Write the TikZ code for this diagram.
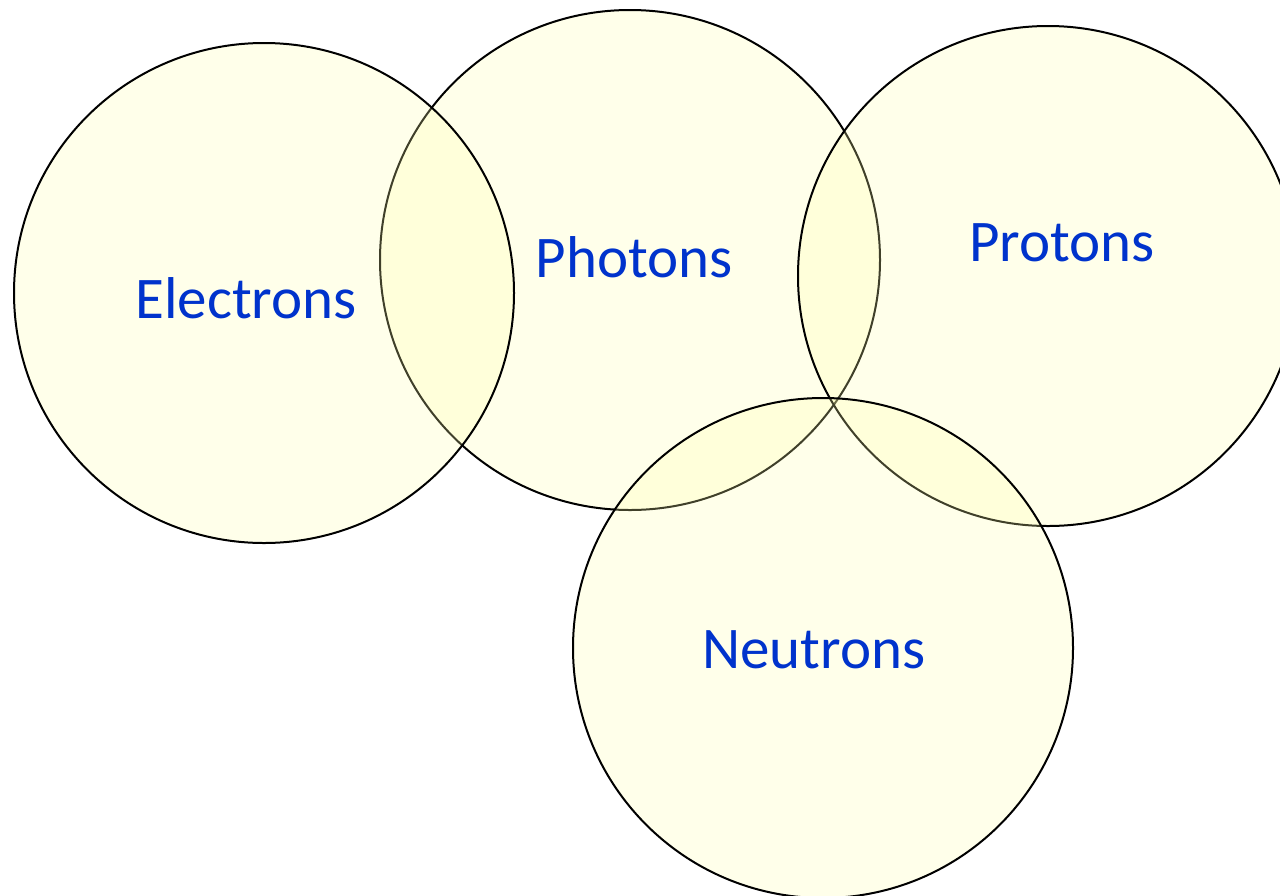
\documentclass[tikz,border=0pt]{standalone}
\usepackage{fontspec}
\setmainfont{Carlito}
\usepackage{xcolor}
\usepackage{tikz}
\usetikzlibrary{positioning}
\definecolor{particlefill}{RGB}{255,255,170}
\definecolor{particletext}{HTML}{0033CC}
\tikzset{
  particle/.style={circle,draw=black,line width=1pt,fill=particlefill,fill opacity=0.25,
                   minimum size=250pt,inner sep=0pt,outer sep=0pt},
  particlename/.style={text=particletext,anchor=base,inner sep=0pt,
                   font=\fontsize{29.5}{34}\selectfont},
}

\begin{document}
\begin{tikzpicture}[x=0.5pt,y=-0.5pt]

\useasboundingbox (0,0) rectangle (1280,895);

\begin{scope}
\clip (0,0) rectangle (1280,895);
\node[particle] (photons)   at (630,260)  {};
\node[particle] (electrons) at (264,293)  {};
\node[particle] (protons)   at (1048,276) {};
\node[particle] (neutrons)  at (823,648)  {};
\end{scope}

\node[particlename] (electronslabel) at (246,318) {Electrons};
\node[particlename] (photonslabel)   at (634,277) {Photons};
\node[particlename] (protonslabel)   at (1062,261) {Protons};
\node[particlename] (neutronslabel)  at (814,668) {Neutrons};

\end{tikzpicture}
\end{document}
